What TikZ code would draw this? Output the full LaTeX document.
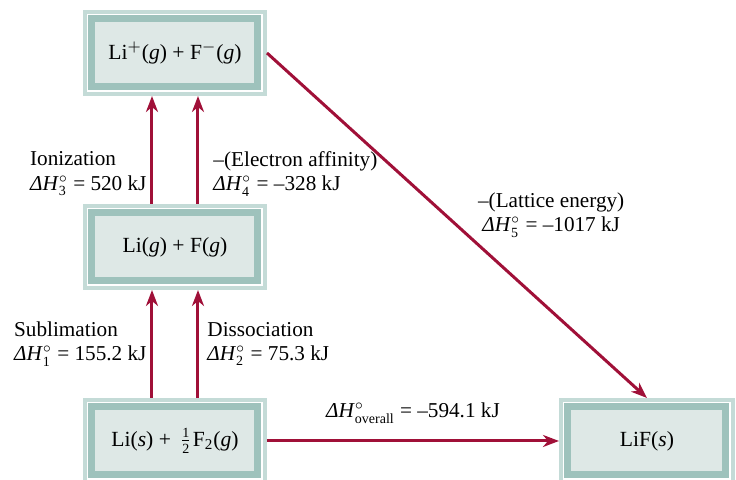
\documentclass[tikz,border=0pt]{standalone}
\usepackage{fontspec}
\setmainfont{Liberation Serif}
\usepackage{tikz}
\usetikzlibrary{arrows.meta,positioning}
\definecolor{rimdark}{RGB}{158,194,188}
\definecolor{rimlight}{RGB}{196,219,215}
\definecolor{boxin}{RGB}{222,232,230}
\definecolor{wine}{RGB}{160,16,56}
\tikzset{
  box/.style   = {rectangle, fill=boxin, draw=rimdark, line width=3.5pt,
                  preaction={draw=rimlight, line width=9pt},
                  preaction={draw=white, line width=5pt},
                  minimum width=83pt, minimum height=34pt, outer sep=4.5pt,
                  font=\fontsize{10.8}{13}\selectfont},
  fl/.style    = {-{Stealth[length=8pt,width=6pt,inset=2.5pt]}, line width=1.5pt, draw=wine},
  lbl/.style   = {align=left, font=\fontsize{10.6}{12.2}\selectfont, inner sep=2pt},
}
\newcommand{\dH}[1]{\textit{ΔH}$^{\circ}_{\mbox{\scriptsize #1}}$}

\begin{document}
\begin{tikzpicture}[node distance=54pt and 146pt]
    \useasboundingbox (-87.5pt,-19.5pt) rectangle (280.5pt,220.5pt);
    \node[box] (elem) at (0,0) {Li(\textit{s}) + \,$\frac{\mbox{\scriptsize 1}}{\mbox{\scriptsize 2}}$\kern0.5pt F\textsubscript{2}(\textit{g})};
    \node[box, above=of elem] (atom) {Li(\textit{g}) + F(\textit{g})};
    \node[box, above=of atom] (ion)  {Li$^{+}$(\textit{g}) + F$^{-}$(\textit{g})};
    \node[box, right=of elem, minimum width=79pt] (lif) {LiF(\textit{s})};
    % elements -> gaseous atoms
    \draw[fl] ([xshift=-11.5pt]elem.north) -- node[lbl, pos=0.50, left]
      {Sublimation\\\dH{1} = 155.2 kJ} ([xshift=-11.5pt]atom.south);
    \draw[fl] ([xshift=11.5pt]elem.north) -- node[lbl, pos=0.50, right, xshift=2pt]
      {Dissociation\\\dH{2} = 75.3 kJ} ([xshift=11.5pt]atom.south);
    % gaseous atoms -> ions
    \draw[fl] ([xshift=-11.5pt]atom.north) -- node[lbl, pos=0.28, left]
      {Ionization\\\dH{3} = 520 kJ} ([xshift=-11.5pt]ion.south);
    \draw[fl] ([xshift=11.5pt]atom.north) -- node[lbl, pos=0.28, right, xshift=5pt]
      {–(Electron affinity)\\\dH{4} = –328 kJ} ([xshift=11.5pt]ion.south);
    % ions -> lattice
    \draw[fl] (ion.east) -- node[lbl, pos=0.47, right=13.5pt, align=center]
      {–(Lattice energy)\\\dH{5} = –1017 kJ} (lif.north);
    % overall
    \draw[fl] (elem) -- node[lbl, above=6pt] {\dH{overall} = –594.1 kJ} (lif);
\end{tikzpicture}
\end{document}
